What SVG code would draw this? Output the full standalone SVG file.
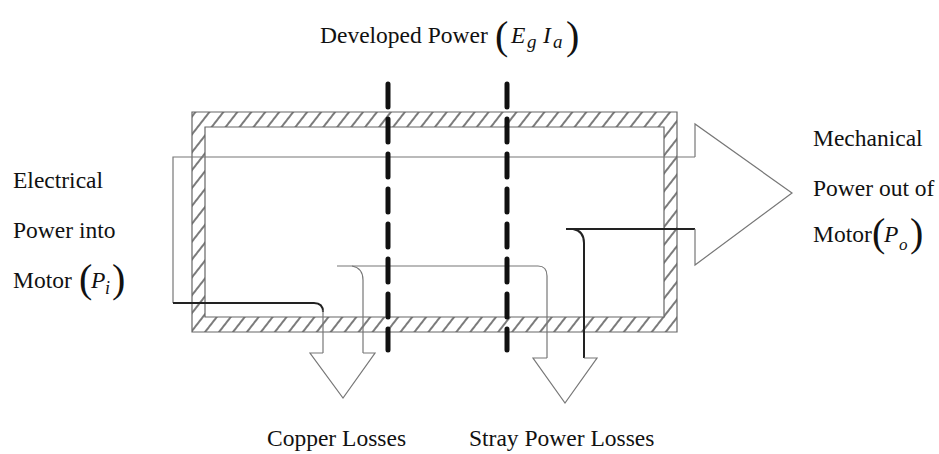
<svg xmlns="http://www.w3.org/2000/svg" width="939" height="454" viewBox="0 0 939 454">
<style>
text{font-family:"Liberation Serif","Times New Roman",serif;fill:#111}
.lbl{font-size:23.5px}
.it{font-style:italic}
.par{font-size:40px}
.thin{fill:none;stroke:#777;stroke-width:1.2}
.dark{fill:none;stroke:#222;stroke-width:2}
.dash{fill:none;stroke:#111;stroke-width:5;stroke-dasharray:23 12;stroke-linecap:round}
</style>
<defs>
<pattern id="hatch" patternUnits="userSpaceOnUse" width="11" height="11" patternTransform="rotate(38)">
<line x1="3" y1="0" x2="3" y2="11" stroke="#333" stroke-width="1.3"/>
</pattern>
</defs>
<g id="frame">
<path d="M192,112 H677 V332 H192 Z M205,127 V317 H664 V127 Z" fill="url(#hatch)" fill-rule="evenodd" stroke="#666" stroke-width="1.2"/>
</g>
<g id="connectors">
<path class="thin" d="M173,303 V157 H695"/>
<path class="dark" d="M173,303 H314 Q323,303 323,312"/>
<path class="thin" d="M323,310 V353"/>
<path class="thin" d="M337,266 H538 Q547,266 547,276 V358"/>
<path class="thin" d="M352,266 Q363,268 363,280 V353"/>
<path class="dark" d="M566,229 H695"/>
<path class="dark" d="M573,229 Q584,231 584,243 V358"/>
</g>
<g id="copper-arrow">
<path class="thin" d="M323,353 H310 L343,398 L375,353 H363"/>
</g>
<g id="stray-arrow">
<path class="thin" d="M547,358 H533 L565,403 L597,358 H584"/>
</g>
<g id="mech-arrow">
<path class="thin" d="M695,157 V124 L792,193 L695,265 V229"/>
</g>
<g id="developed-lines">
<line class="dash" x1="388" y1="84" x2="388" y2="350"/>
<line class="dash" x1="507" y1="84" x2="507" y2="350"/>
</g>
<g id="developed-label">
<text x="320" y="43" class="lbl">Developed Power</text>
<text x="495" y="49" class="par" font-size="44">(</text>
<text x="511" y="43" class="lbl it">E</text>
<text x="527" y="48" class="it" font-size="19">g</text>
<text x="543" y="43" class="lbl it">I</text>
<text x="553" y="48" class="it" font-size="19">a</text>
<text x="566" y="49" class="par" font-size="44">)</text>
</g>
<g id="input-label">
<text x="13" y="188" class="lbl">Electrical</text>
<text x="13" y="238" class="lbl">Power into</text>
<text x="13" y="288" class="lbl">Motor</text>
<text x="79" y="292" class="par" font-size="36">(</text>
<text x="91" y="288" class="lbl it">P</text>
<text x="105" y="294" class="it" font-size="18">i</text>
<text x="112" y="292" class="par" font-size="36">)</text>
</g>
<g id="output-label">
<text x="813" y="146" class="lbl">Mechanical</text>
<text x="813" y="196" class="lbl">Power out of</text>
<text x="813" y="242" class="lbl">Motor</text>
<text x="872" y="246" class="par" font-size="36">(</text>
<text x="884" y="242" class="lbl it">P</text>
<text x="899" y="250" class="it" font-size="17">o</text>
<text x="910" y="246" class="par" font-size="36">)</text>
</g>
<g id="copper-label">
<text x="267" y="446" class="lbl" font-size="24">Copper Losses</text>
</g>
<g id="stray-label">
<text x="469" y="446" class="lbl" font-size="24">Stray Power Losses</text>
</g>
</svg>
